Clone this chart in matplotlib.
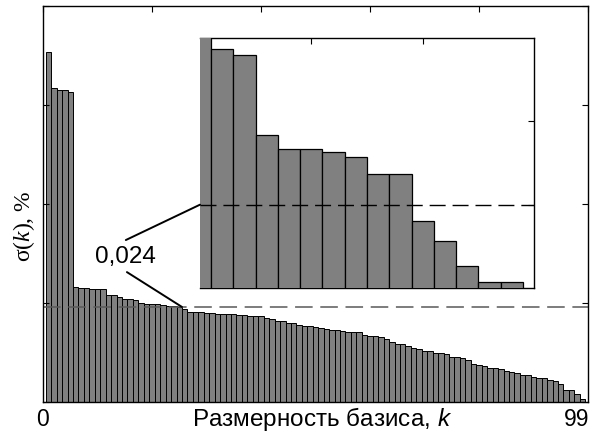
import matplotlib
matplotlib.use("Agg")
import matplotlib.pyplot as plt
from matplotlib.patches import ConnectionPatch

plt.rcParams['mathtext.fontset'] = 'custom'
plt.rcParams['mathtext.it'] = 'Liberation Serif:italic'
plt.rcParams['mathtext.rm'] = 'Liberation Serif'
plt.rcParams['mathtext.sf'] = 'Liberation Sans:italic'

# ---- data ----
main_k = list(range(1, 100))
main_values = [
    0.0884, 0.0793, 0.0788, 0.0788, 0.0783, 0.0290, 0.0289, 0.0288, 0.0286, 0.0285,
    0.0285, 0.0270, 0.0269, 0.0264, 0.0260, 0.0260, 0.0258, 0.0250, 0.0248, 0.0247,
    0.0247, 0.0246, 0.0243, 0.0242, 0.0239, 0.0234, 0.0228, 0.0227, 0.0227, 0.0226,
    0.0224, 0.0223, 0.0222, 0.0222, 0.0221, 0.0220, 0.0219, 0.0217, 0.0216, 0.0216,
    0.0211, 0.0210, 0.0205, 0.0204, 0.0200, 0.0199, 0.0194, 0.0193, 0.0192, 0.0189,
    0.0188, 0.0185, 0.0183, 0.0183, 0.0179, 0.0178, 0.0178, 0.0178, 0.0169, 0.0166,
    0.0166, 0.0164, 0.0159, 0.0151, 0.0146, 0.0146, 0.0141, 0.0137, 0.0134, 0.0130,
    0.0130, 0.0123, 0.0123, 0.0120, 0.0114, 0.0113, 0.0110, 0.0107, 0.0096, 0.0093,
    0.0091, 0.0087, 0.0087, 0.0083, 0.0079, 0.0076, 0.0074, 0.0067, 0.0067, 0.0062,
    0.0060, 0.0060, 0.0056, 0.0052, 0.0045, 0.0030, 0.0030, 0.0019, 0.0007,
]
threshold = 0.024
threshold_label = "0,024"

inset_k = list(range(0, 15))
inset_values = [0.0305, 0.0296, 0.0294, 0.0265, 0.0260, 0.0260, 0.0259, 0.0257,
                0.0251, 0.0251, 0.0234, 0.0227, 0.0218, 0.0212, 0.0212]

main_xlim = (0, 100)
main_ylim = (0, 0.1)
main_xticks = [0, 20, 40, 60, 80, 100]
main_yticks = [0, 0.025, 0.05, 0.075, 0.1]
inset_xlim = (0, 15)
inset_ylim = (0.021, 0.030)
inset_xticks = [5, 10]
inset_yticks = [0.024, 0.027]

x_label = r"Размерность базиса, $\mathsf{k}$"
y_label = r"σ($k$), %"
x_first_label = "0"
x_last_label = "99"

# ---- figure ----
W, H = 598, 432
fig = plt.figure(figsize=(W / 100, H / 100), dpi=100)

def fx(px):
    return px / W

def fy(py):
    return 1 - py / H

bar_color = "#808080"

ax = fig.add_axes([fx(43), fy(402), fx(588) - fx(43), fy(6) - fy(402)])
ax.bar(main_k, main_values, width=1.0, color=bar_color, edgecolor="black", linewidth=0.7)
ax.axhline(threshold, color="0.35", linewidth=1.1, linestyle=(0, (11.5, 5)))
ax.set_xlim(*main_xlim)
ax.set_ylim(*main_ylim)
ax.set_xticks(main_xticks)
ax.set_yticks(main_yticks)
ax.tick_params(direction="in", top=True, right=True, bottom=False, length=4, width=0.8,
               labelbottom=False, labelleft=False)
for s in ax.spines.values():
    s.set_linewidth(1.0)

# inset
axi = fig.add_axes([fx(200), fy(288), fx(534) - fx(200), fy(38) - fy(288)])
axi.set_facecolor("white")
axi.bar(inset_k, inset_values, width=1.0, color=bar_color, edgecolor="black",
        linewidth=0.9, zorder=3)
axi.axhline(threshold, color="black", linewidth=1.0, linestyle=(0, (11.5, 5)), zorder=4)
axi.set_xlim(*inset_xlim)
axi.set_ylim(*inset_ylim)
axi.set_xticks(inset_xticks)
axi.set_yticks(inset_yticks)
axi.tick_params(direction="in", top=True, right=True, bottom=False, left=False,
                length=4, width=0.8, labelbottom=False, labelleft=False)
axi.spines["left"].set_visible(False)
for s in axi.spines.values():
    s.set_linewidth(1.0)

# annotation
text_xy = (15.2, 0.0366)
ax.text(*text_xy, threshold_label, ha="center", va="center", fontsize=17.5,
        family="Liberation Sans")
ax.annotate("", xy=(25.5, threshold), xytext=(15.4, 0.0328),
            arrowprops=dict(arrowstyle="-", color="black", linewidth=1.4, shrinkA=0, shrinkB=0))
con = ConnectionPatch(xyA=(15.2, 0.0409), coordsA=ax.transData,
                      xyB=(inset_xlim[0], threshold), coordsB=axi.transData,
                      color="black", linewidth=1.4)
fig.add_artist(con)

# labels
fig.text(fx(43), fy(426), x_first_label, ha="center", va="baseline", fontsize=16.5,
         family="Liberation Sans")
fig.text(fx(589), fy(426), x_last_label, ha="right", va="baseline", fontsize=16.5,
         family="Liberation Sans")
fig.text(fx(322), fy(426), x_label, ha="center", va="baseline", fontsize=17.5,
         family="Liberation Sans")
fig.text(fx(24), fy(226), y_label, ha="center", va="center", rotation=90, fontsize=17,
         family="Liberation Serif")

fig.savefig("out.png", dpi=100)
